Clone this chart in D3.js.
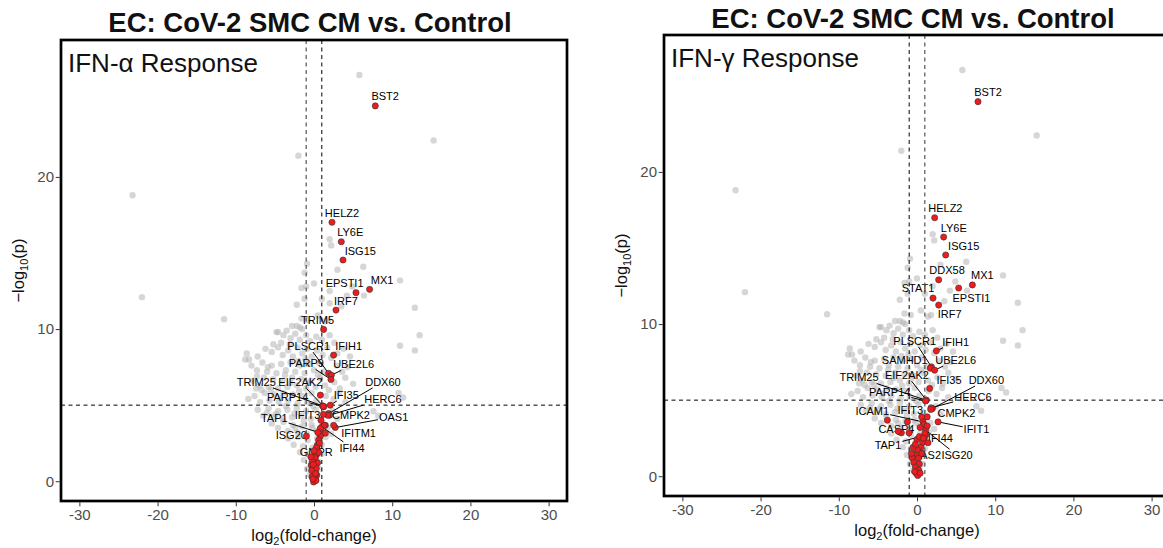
<!DOCTYPE html>
<html><head><meta charset="utf-8">
<script src="https://cdn.jsdelivr.net/npm/d3@7"></script>
<style>body{margin:0;background:#fff}svg{display:block}</style>
</head><body>
<svg id="c" width="1163" height="548"></svg>
<script>
// ---------------- DATA ----------------
const xTicks = [-30, -20, -10, 0, 10, 20, 30];
const xTickLabels = ["-30", "-20", "-10", "0", "10", "20", "30"];
const yTicks = [0, 10, 20];
const yTickLabels = ["0", "10", "20"];
const fcCutoffs = [-1, 1];
const pCutoff = 5;
const titles = ["EC: CoV-2 SMC CM vs. Control", "EC: CoV-2 SMC CM vs. Control"];
const tags = ["IFN-\u03B1 Response", "IFN-\u03B3 Response"];

// all genes (grey background): [log2FC, -log10 p]
const grayPoints = [
 [-23.2,18.8],[-22.0,12.1],[-11.5,10.65],[-2.0,21.4],[5.8,26.7],[15.3,22.4],[12.9,11.4],[13.5,9.6],[11.0,8.9],[11.0,13.2],[12.9,8.6],[10.8,5.8],[11.4,5.5],[6.3,14.1],[6.4,12.2],[7.6,4.6],[8.2,4.3],
 [2.0,15.9],[2.2,15.5],[3.0,13.9],[-0.9,14.3],[-1.2,13.7],[-1.6,12.7],[-1.0,12.8],[2.0,12.5],[2.0,11.7],[3.5,11.5],[-1.2,12.0],[-2.2,11.6],[-1.6,10.7],[-2.8,10.2],[-2.2,10.2],[-1.5,10.0],[-4.6,9.8],[-3.5,9.9],[-8.6,8.4],[-8.8,8.0],[-8.3,8.0],[-7.4,6.1],[-7.3,6.9],
 [4.9,12.8],[4.2,12.2],[1.4,10.5],[1.8,10.6],[-1.8,10.1],[-4.8,9.8],
 [-3.9,9.6],[-3.0,9.4],[-2.4,9.7],[-1.8,9.3],[-1.0,9.6],[-0.5,9.2],[0.3,9.5],[1.0,9.3],[2.0,9.6],[2.6,9.1],[-4.2,9.1],[-5.2,9.0],
 [-6.2,8.7],[-5.4,8.5],[-4.6,8.8],[-4.0,8.3],[-3.3,8.6],[-2.7,8.2],[-2.1,8.8],[-1.5,8.4],[-0.9,8.7],[-0.3,8.2],[0.4,8.6],[1.1,8.3],[1.7,8.8],[3.0,8.4],[3.8,8.7],[4.6,8.2],[-7.2,8.2],
 [-8.0,7.6],[-7.3,7.3],[-6.6,7.8],[-6.0,7.2],[-5.4,7.6],[-4.8,7.1],[-4.2,7.7],[-3.6,7.3],[-3.0,7.8],[-2.4,7.2],[-1.8,7.6],[-1.2,7.1],[-0.6,7.7],[0.0,7.3],[0.6,7.8],[1.2,7.2],[2.9,7.6],[3.6,7.2],[4.3,7.5],
 [-7.8,6.6],[-7.0,6.3],[-6.4,6.8],[-5.8,6.2],[-5.2,6.7],[-4.6,6.1],[-4.0,6.6],[-3.4,6.2],[-2.8,6.8],[-2.2,6.3],[-1.6,6.7],[-1.0,6.1],[-0.4,6.6],[0.2,6.2],[0.8,6.8],[1.4,6.3],[2.6,6.5],[3.3,6.1],[4.0,6.8],[5.0,6.4],
 [-7.6,5.6],[-6.9,5.2],[-6.3,5.8],[-5.7,5.3],[-5.1,5.7],[-4.5,5.2],[-3.9,5.8],[-3.3,5.3],[-2.7,5.7],[-2.1,5.1],[-1.5,5.6],[-0.9,5.2],[-0.3,5.8],[0.3,5.3],[1.5,5.6],[2.5,5.4],[3.2,5.8],[4.0,5.2],[-8.4,5.4],
 [-7.2,4.7],[-6.5,4.3],[-5.8,4.8],[-5.2,4.2],[-4.6,4.6],[-4.0,4.1],[-3.4,4.7],[-2.8,4.2],[-2.2,4.8],[-1.6,4.3],[-1.0,4.6],[-0.4,4.1],[0.2,4.7],[0.8,4.2],[2.4,4.6],[3.0,4.1],
 [-5.4,3.8],[-4.6,3.5],[-3.9,3.9],[-3.3,3.3],[-2.7,3.7],[-2.1,3.2],[-1.5,3.6],[-0.9,3.1],[-0.3,3.7],[0.3,3.3],[1.7,3.5],[2.2,3.1],
 [-3.3,2.8],[-2.6,2.4],[-2.0,2.9],[-1.4,2.3],[-0.8,2.7],[-0.2,2.2],[0.4,2.8],[1.0,2.4],[1.5,2.9],
 [-1.8,1.9],[-1.3,1.4],[-0.8,1.8],[-0.4,1.2],[0.1,1.7],[0.6,1.3],[1.0,1.8],
 [-0.9,0.8],[-0.5,0.4],[-0.1,0.9],[0.3,0.5],[0.7,0.8],[0.0,0.1],
 [-4.3,5.45],[-3.6,4.95],[-3.0,6.45],[-2.5,4.45],[-1.9,5.95],[-1.3,3.95],[-0.7,6.45],[-0.1,4.95],[0.5,7.0],[-5.5,6.0],[-6.0,4.5],[-3.7,7.0],[-2.0,7.9],[-1.1,8.0],[-0.2,3.5],[-2.4,3.5],[-4.9,4.4],[-6.7,6.0],[-5.9,7.5],[-3.1,9.0],[0.9,5.0],[1.9,6.0],[2.2,8.1],[-0.8,10.6],[0.5,10.9],[1.0,12.0],[0.0,13.0]
];

// labelled genes: [name, log2FC, -log10p, label log2FC, label -log10p]
const alphaLabeled = [
 ["BST2",7.84,24.67,9.1,25.3],["HELZ2",2.30,17.02,3.58,17.65],["LY6E",3.49,15.74,4.64,16.36],
 ["ISG15",3.71,14.54,5.92,15.15],["MX1",7.11,12.61,8.70,13.22],["EPSTI1",5.37,12.39,3.91,13.05],
 ["IRF7",2.81,11.25,4.09,11.86],["TRIM5",1.23,9.98,0.46,10.59],["IFIH1",2.51,8.29,4.43,8.90],
 ["PLSCR1",1.87,7.09,-0.69,8.88],["UBE2L6",2.21,6.97,5.07,7.68],["PARP9",2.17,6.69,-0.98,7.74],
 ["TRIM25",1.1,4.95,-7.38,6.53],["EIF2AK2",1.25,4.9,-1.75,6.53],["DDX60",1.87,4.45,8.82,6.53],
 ["IFI35",2.08,5.0,4.13,5.66],["PARP14",1.2,4.92,-3.37,5.51],["HERC6",2.0,4.34,8.82,5.39],
 ["IFIT3",1.45,3.68,-0.82,4.34],["CMPK2",1.74,4.34,4.73,4.34],["OAS1",2.72,3.53,10.18,4.23],
 ["IFITM1",2.51,3.68,5.70,3.18],["TAP1",1.02,3.14,-5.08,4.12],["ISG20",-0.98,2.96,-2.9,3.03],
 ["IFI44",1.02,3.57,4.86,2.19],["GMPR",0.38,2.15,0.29,1.93]
];
const alphaRedExtra = [
 [0.81,5.66],[1.32,3.68],[0.81,3.47],[1.45,3.16],[0.8,2.96],[0.59,2.70],[0.42,2.37],[0.38,2.04],[0.29,1.71],[0.17,1.38],
 [-0.35,1.05],[-0.05,0.94],[0.17,0.61],[-0.05,0.39],[0.04,0.11],[-0.05,-0.05],[0.5,3.2],[0.7,2.5],[0.3,2.2],[0.6,1.9],
 [0.1,1.55],[0.45,1.2],[-0.2,1.3],[0.3,0.85],[-0.3,0.7],[0.35,0.4],[-0.25,0.3],[0.15,0.2],[0.25,0.05],[-0.15,0.15],
 [-0.4,1.6],[0.0,2.0],[-0.1,1.1],[0.2,0.5],[1.2,4.4],[0.9,4.0]
];
const gammaLabeled = [
 ["BST2",7.80,24.62,9.08,25.24],["HELZ2",2.26,16.99,3.63,17.61],["LY6E",3.41,15.72,4.69,16.34],
 ["ISG15",3.67,14.54,5.97,15.13],["DDX58",2.77,12.91,3.84,13.55],["MX1",7.08,12.57,8.36,13.22],
 ["STAT1",2.05,11.71,0.13,12.35],["EPSTI1",5.33,12.37,6.96,11.73],["IRF7",2.77,11.25,4.18,10.64],
 ["IFIH1",2.48,8.24,4.95,8.84],["PLSCR1",1.84,7.19,-0.29,8.88],["SAMHD1",1.7,7.1,-1.57,7.63],
 ["UBE2L6",2.26,6.97,4.95,7.63],["TRIM25",1.11,5.0,-7.42,6.49],["EIF2AK2",1.2,5.0,-1.28,6.64],
 ["IFI35",1.62,5.77,4.09,6.32],["DDX60",1.97,4.45,8.87,6.32],["PARP14",1.1,4.95,-3.49,5.51],
 ["HERC6",1.8,4.5,7.16,5.22],["IFIT3",1.3,3.9,-0.85,4.34],["CMPK2",1.75,4.39,5.04,4.17],
 ["ICAM1",0.77,3.57,-5.71,4.30],["CASP4",-2.21,2.91,-2.63,3.13],["IFIT1",2.69,3.57,7.6,3.07],
 ["IFI44",0.9,2.5,2.99,2.48],["TAP1",1.11,2.70,-3.71,2.04],["ISG20",1.11,3.03,5.12,1.38],
 ["OAS2",0.6,1.5,1.2,1.38]
];
const gammaRedExtra = [
 [-3.79,3.68],[-2.0,2.85],[-2.4,2.95],[-1.23,3.57],[-1.02,2.85],[0.0,2.43],[0.6,3.9],[0.9,3.4],[0.4,3.2],[1.0,2.8],
 [0.7,2.2],[0.3,2.6],[0.5,1.9],[0.1,1.7],[-0.3,1.4],[-0.6,1.2],[0.2,1.2],[-0.4,0.9],[0.3,0.8],[-0.2,0.6],
 [0.2,0.4],[-0.1,0.2],[0.1,0.05],[-0.5,1.9],[-0.7,1.5],[0.6,1.5],[0.8,2.5],[-0.2,2.1],[1.3,3.3],[0.4,0.2],
 [-0.3,0.3],[1.4,2.2]
];

// ---------------- DRAWING ----------------
const FONT = "'Liberation Sans', Arial, Helvetica, sans-serif";
const svg = d3.select("#c");
const PW = 506, PH = 461;
const xDomain = [-32.35, 32.35], yDomain = [-1.3, 29.0];

function drawPanel(cfg) {
  const x = d3.scaleLinear().domain(xDomain).range([0, PW]);
  const y = d3.scaleLinear().domain(yDomain).range([PH, 0]);
  const g = svg.append("g").attr("transform", `translate(${cfg.left},${cfg.top})`);
  const clipId = "clip" + cfg.idx;
  g.append("clipPath").attr("id", clipId).append("rect").attr("width", PW).attr("height", PH);
  const plot = g.append("g").attr("clip-path", `url(#${clipId})`);

  // title
  svg.append("text").attr("x", cfg.left + PW / 2 - 4).attr("y", cfg.titleY)
    .attr("text-anchor", "middle").attr("font-family", FONT).attr("font-weight", "bold")
    .attr("font-size", 27.5).attr("fill", "#111").text(cfg.title);

  // grey points
  plot.append("g").selectAll("circle").data(grayPoints).join("circle")
    .attr("cx", d => x(d[0])).attr("cy", d => y(d[1])).attr("r", 3.2)
    .attr("fill", "#b5b5b5").attr("fill-opacity", 0.55);

  // labels + segments
  const lg = plot.append("g");
  const segG = lg.append("g");
  const txtG = lg.append("g");
  cfg.genes.forEach(d => {
    const px = x(d[1]), py = y(d[2]);
    const lx = x(d[3]), ly = y(d[4]);
    const t = txtG.append("text").attr("x", lx).attr("y", ly).attr("dy", "0.36em")
      .attr("text-anchor", "middle").attr("font-family", FONT).attr("font-size", 11)
      .attr("fill", "#000").text(d[0]);
    const w = t.node().getComputedTextLength();
    const hw = w / 2 + 1, hh = 6;
    const dx = px - lx, dy = py - ly;
    const tt = Math.min(hw / Math.max(Math.abs(dx), 1e-9), hh / Math.max(Math.abs(dy), 1e-9));
    if (tt < 1) {
      const ex = lx + dx * tt, ey = ly + dy * tt;
      const len = Math.hypot(px - ex, py - ey);
      if (len > 7) {
        const k = (len - 2) / len;
        segG.append("line").attr("x1", ex).attr("y1", ey)
          .attr("x2", ex + (px - ex) * k).attr("y2", ey + (py - ey) * k)
          .attr("stroke", "#000").attr("stroke-width", 1);
      }
    }
  });

  // dashed threshold lines
  const lines = plot.append("g").attr("fill", "none").attr("stroke-dasharray", "4,3.5");
  fcCutoffs.forEach((v, i) => {
    lines.append("line").attr("x1", x(v)).attr("x2", x(v)).attr("y1", 0).attr("y2", PH)
      .attr("stroke", cfg.vColors[i]).attr("stroke-width", cfg.vWidths[i]);
  });
  lines.append("line").attr("x1", 0).attr("x2", PW).attr("y1", y(pCutoff)).attr("y2", y(pCutoff))
    .attr("stroke", "#000").attr("stroke-width", 1);

  // red points
  const reds = cfg.genes.map(d => [d[1], d[2]]).concat(cfg.extra);
  plot.append("g").selectAll("circle").data(reds).join("circle")
    .attr("cx", d => x(d[0])).attr("cy", d => y(d[1])).attr("r", 3.1)
    .attr("fill", "#ee1c1f").attr("stroke", "#333").attr("stroke-width", 0.6);

  // tag
  g.append("text").attr("x", 7).attr("y", cfg.tagY).attr("font-family", FONT)
    .attr("font-size", 26).attr("fill", "#111").text(cfg.tag);

  // frame
  g.append("rect").attr("width", PW).attr("height", PH).attr("fill", "none")
    .attr("stroke", "#000").attr("stroke-width", 2.7);

  // x axis
  const xa = g.append("g").attr("transform", `translate(0,${PH})`)
    .call(d3.axisBottom(x).tickValues(xTicks).tickSize(4).tickPadding(4)
      .tickFormat((d, i) => xTickLabels[i]));
  xa.select(".domain").remove();
  xa.selectAll("line").attr("stroke", "#333").attr("transform", "translate(0,1.3)");
  xa.selectAll("text").attr("font-family", FONT).attr("font-size", 15).attr("fill", "#4d4d4d");

  // y axis
  const ya = g.append("g")
    .call(d3.axisLeft(y).tickValues(yTicks).tickSize(4).tickPadding(3)
      .tickFormat((d, i) => yTickLabels[i]));
  ya.select(".domain").remove();
  ya.selectAll("line").attr("stroke", "#333").attr("transform", "translate(-1.3,0)");
  ya.selectAll("text").attr("font-family", FONT).attr("font-size", 15).attr("fill", "#4d4d4d");

  // axis titles
  const xt = svg.append("text").attr("x", cfg.left + PW / 2).attr("y", cfg.top + PH + 40)
    .attr("text-anchor", "middle").attr("font-family", FONT).attr("font-size", 16.5).attr("fill", "#111");
  xt.append("tspan").text("log");
  xt.append("tspan").attr("font-size", 11).attr("dy", 4).text("2");
  xt.append("tspan").attr("dy", -4).text("(fold-change)");

  const yt = svg.append("text")
    .attr("transform", `translate(${cfg.left - 37},${cfg.top + PH / 2}) rotate(-90)`)
    .attr("text-anchor", "middle").attr("font-family", FONT).attr("font-size", 16.5).attr("fill", "#111");
  yt.append("tspan").text("\u2212log");
  yt.append("tspan").attr("font-size", 11).attr("dy", 4).text("10");
  yt.append("tspan").attr("dy", -4).text("(p)");
}

drawPanel({idx: 0, left: 61, top: 40, title: titles[0], titleY: 32, tag: tags[0], tagY: 32,
  genes: alphaLabeled, extra: alphaRedExtra, vColors: ["#555", "#000"], vWidths: [1.2, 1]});
drawPanel({idx: 1, left: 664, top: 35, title: titles[1], titleY: 28, tag: tags[1], tagY: 32,
  genes: gammaLabeled, extra: gammaRedExtra, vColors: ["#000", "#555"], vWidths: [1, 1.2]});
</script>
</body></html>
